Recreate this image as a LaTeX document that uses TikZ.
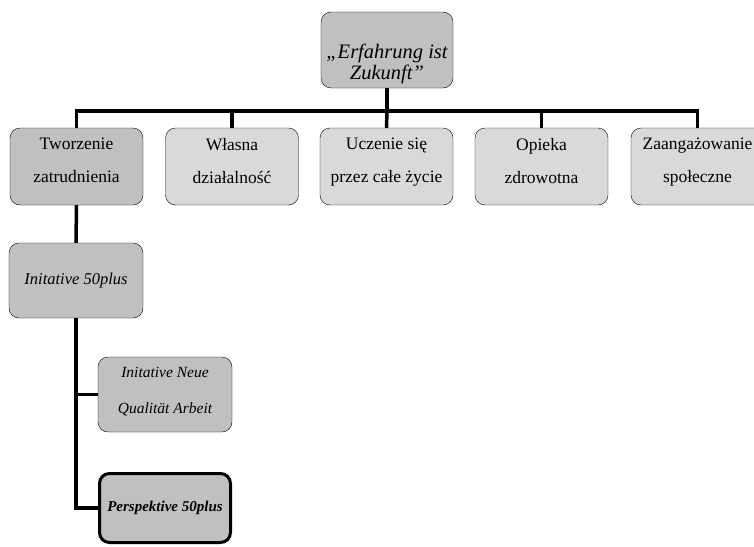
\documentclass[tikz,border=0pt]{standalone}
\usepackage{fontspec}
\setmainfont{Liberation Serif}
\definecolor{boxdark}{HTML}{C0C0C0}
\definecolor{boxlight}{HTML}{D9D9D9}
\newcommand{\padlow}[1]{\rule[-#1]{0pt}{0pt}}
\newcommand{\padhigh}[1]{\rule{0pt}{#1}}
\tikzset{
  box/.style={draw, rounded corners=10pt, minimum width=133pt, minimum height=77pt,
    align=center, inner sep=0pt, font=\fontsize{17.5}{33}\selectfont},
  darkbox/.style={box, fill=boxdark},
  lightbox/.style={box, fill=boxlight},
  link/.style={line width=3.5pt},
}
\begin{document}
\begin{tikzpicture}[x=1pt, y=-1pt]
    \useasboundingbox (0,0) rectangle (754,546);

    % Top box
    \node [darkbox, minimum width=132pt, minimum height=76pt, font=\fontsize{20.5}{20.5}\selectfont\itshape] (erf) at (387,50) {\padhigh{42pt}„Erfahrung ist\\Zukunft”};

    % Second row
    \node [darkbox] (tz) at (76.5,166.5) {Tworzenie\\zatrudnienia\padlow{12pt}};
    \node [lightbox] (wd) at (232,166.5) {Własna\\działalność\padlow{12pt}};
    \node [lightbox] (ucz) at (386.5,166.5) {Uczenie się\\przez całe życie\padlow{12pt}};
    \node [lightbox] (oz) at (541.5,166.5) {Opieka\\zdrowotna\padlow{12pt}};
    \node [lightbox] (zs) at (697.5,166.5) {Zaangażowanie\\społeczne\padlow{12pt}};

    % Branch bar
    \coordinate (bar) at (387,111);
    \draw [link] (erf.south) -- (bar);
    \draw [link] (tz.north) |- (bar) -| (zs.north);
    \draw [link] (bar -| wd.north) -- (wd.north);
    \draw [link] (bar) -- (ucz.north);
    \draw [link] (bar -| oz.north) -- (oz.north);

    % Lower boxes
    \node [darkbox, minimum width=134pt, minimum height=75pt, font=\fontsize{16.5}{20}\selectfont\itshape] (in50) at (76,280.5) {Initative 50plus};
    \node [darkbox, minimum width=134pt, minimum height=75pt, font=\fontsize{15.5}{36}\selectfont\itshape] (nqa) at (165,394.5) {Initative Neue\\Qualität Arbeit\padlow{8pt}};
    \node [darkbox, line width=3pt, minimum width=131pt, minimum height=69pt, font=\fontsize{15}{18}\selectfont\bfseries\itshape] (p50) at (165,508) {Perspektive 50plus};

    \draw [link] (tz.south) -- (in50.north);
    \draw [link] (in50.south) |- (p50.west);
    \draw [link] (in50.south |- nqa.west) -- (nqa.west);
\end{tikzpicture}
\end{document}
